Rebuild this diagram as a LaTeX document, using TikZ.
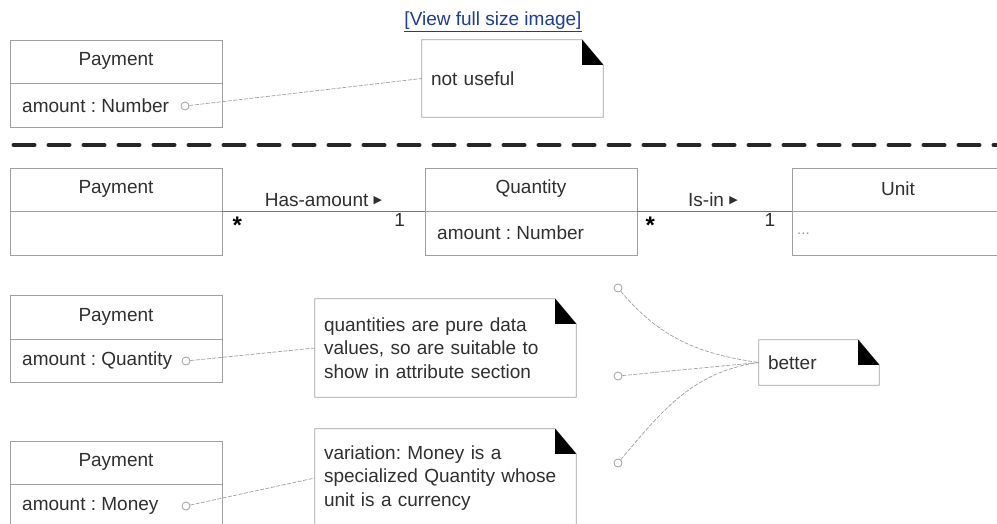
\documentclass[tikz,border=0pt]{standalone}
\usepackage{fontspec}
\setmainfont{Liberation Sans}
\newfontfamily\symfont{DejaVu Sans}
\usetikzlibrary{positioning}
\frenchspacing

\definecolor{linegray}{HTML}{A0A0A0}
\definecolor{textgray}{HTML}{303030}
\definecolor{linkblue}{HTML}{1E3C9C}

\newcommand{\umlfont}{\fontsize{19}{23.5}\selectfont}
\newcommand{\readarrow}{\raisebox{3pt}{\symfont\fontsize{11}{11}\selectfont ▶}}

% outline and folded corner of a note
\newcommand{\notefold}[1]{%
  \draw[linegray, line width=0.8pt] (#1.north west) -- ([xshift=-21pt]#1.north east)
    -- ([yshift=-25pt]#1.north east) -- (#1.south east) -- (#1.south west) -- cycle;
  \fill[black] ([xshift=-21pt]#1.north east) -- ([xshift=-21pt,yshift=-25pt]#1.north east)
    -- ([yshift=-25pt]#1.north east) -- cycle;}

\tikzset{
  classbox/.style={draw=linegray, line width=0.8pt, minimum width=212pt, minimum height=87pt, inner sep=0pt},
  classname/.style={text=textgray, font=\umlfont, inner sep=0pt},
  attrtext/.style={anchor=west, text=textgray, font=\umlfont, inner sep=0pt},
  notebox/.style={inner xsep=9pt, inner ysep=0pt, align=left, text=textgray, font=\umlfont},
  anchorpin/.style={circle, draw=linegray, fill=white, line width=0.8pt, inner sep=0pt, minimum size=8pt},
  noteline/.style={draw=linegray, dash pattern=on 4pt off 1.5pt, line width=0.7pt},
  assocline/.style={draw=black!55, line width=0.8pt},
  multtext/.style={text=textgray, font=\umlfont, inner sep=1pt},
  manytext/.style={text=black, font=\fontsize{24}{24}\selectfont\bfseries, inner sep=0pt}
}

\begin{document}
\begin{tikzpicture}[x=1pt, y=-1pt]
  \useasboundingbox[fill=white] (0,0) rectangle (997,524);

  % -- link above the figure --
  \node[text=linkblue, font=\umlfont] (fulllink) at (493,22) {\underline{[View full size image]}};

  % -- not useful: attribute of type Number --
  \node[classbox] (payA) at (116,83.5) {};
  \draw[linegray, line width=0.8pt] (payA.west) -- (payA.east);
  \node[classname] (payAname) at (116,61) {Payment};
  \node[attrtext] (payAattr) at (22,106) {amount : Number};
  \node[anchorpin] (pinA) at (185,106) {};
  \node[notebox, minimum width=181pt, minimum height=77pt, text width=163pt] (noteA) at (512.5,78.5) {not useful};
  \notefold{noteA}
  \draw[noteline] (pinA) -- (noteA.west);

  % -- separator --
  \draw[black!85, line width=4pt, line cap=round, dash pattern=on 21pt off 14pt] (13.5,145) -- (997,145);

  % -- association to Quantity and Unit --
  \node[classbox] (payB) at (116,211.5) {};
  \draw[linegray, line width=0.8pt] (payB.west) -- (payB.east);
  \node[classname] (payBname) at (116,189) {Payment};

  \node[classbox] (qty) at (531,211.5) {};
  \draw[linegray, line width=0.8pt] (qty.west) -- (qty.east);
  \node[classname] (qtyname) at (531,189) {Quantity};
  \node[attrtext] (qtyattr) at (437,233) {amount : Number};

  \node[classbox] (unit) at (898,211.5) {};
  \draw[linegray, line width=0.8pt] (unit.west) -- (unit.east);
  \node[classname] (unitname) at (898,189) {Unit};
  \node[attrtext, text=black!40, font=\fontsize{15}{15}\selectfont] (unitattr) at (797,234) {...};

  \draw[assocline] (payB.east) -- node[multtext, above=3pt] (hasamount) {Has-amount \readarrow}
    node[manytext, pos=0.074, below=5pt] (multB) {*}
    node[multtext, pos=0.877, below=1pt] (multQ) {1} (qty.west);
  \draw[assocline] (qty.east) -- node[multtext, pos=0.49, above=3pt] (isin) {Is-in \readarrow}
    node[manytext, pos=0.084, below=5pt] (multQB) {*}
    node[multtext, pos=0.86, below=1pt] (multU) {1} (unit.west);

  % -- better: attribute of type Quantity --
  \node[classbox] (payC) at (116,339) {};
  \draw[linegray, line width=0.8pt] (payC.west) -- (payC.east);
  \node[classname] (payCname) at (116,317) {Payment};
  \node[attrtext] (payCattr) at (22,361) {amount : Quantity};
  \node[anchorpin] (pinC) at (186,361) {};
  \node[notebox, minimum width=261pt, minimum height=98pt, text width=243pt] (noteC) at (445.5,348)
    {quantities are pure data\\values, so are suitable to\\show in attribute section};
  \notefold{noteC}
  \draw[noteline] (pinC) -- (noteC.west);

  % -- variation: attribute of type Money --
  \node[classbox] (payD) at (116,484.5) {};
  \draw[linegray, line width=0.8pt] (payD.west) -- (payD.east);
  \node[classname] (payDname) at (116,462) {Payment};
  \node[attrtext] (payDattr) at (22,506) {amount : Money};
  \node[anchorpin] (pinD) at (186,506) {};
  \node[notebox, minimum width=261pt, minimum height=98pt, text width=243pt] (noteD) at (445.5,478)
    {variation: Money is a\\specialized Quantity whose\\unit is a currency};
  \notefold{noteD}
  \draw[noteline] (pinD) -- (noteD.west);

  % -- better note --
  \node[notebox, minimum width=120pt, minimum height=45pt, text width=102pt] (better) at (819,362.5) {better};
  \notefold{better}
  \node[anchorpin] (pinE) at (618,288) {};
  \node[anchorpin] (pinF) at (618,376) {};
  \node[anchorpin] (pinG) at (618,463) {};
  \draw[noteline] (pinE) to[out=-50, in=172] (better.west);
  \draw[noteline] (pinF) -- (better.west);
  \draw[noteline] (pinG) to[out=50, in=188] (better.west);

\end{tikzpicture}
\end{document}
